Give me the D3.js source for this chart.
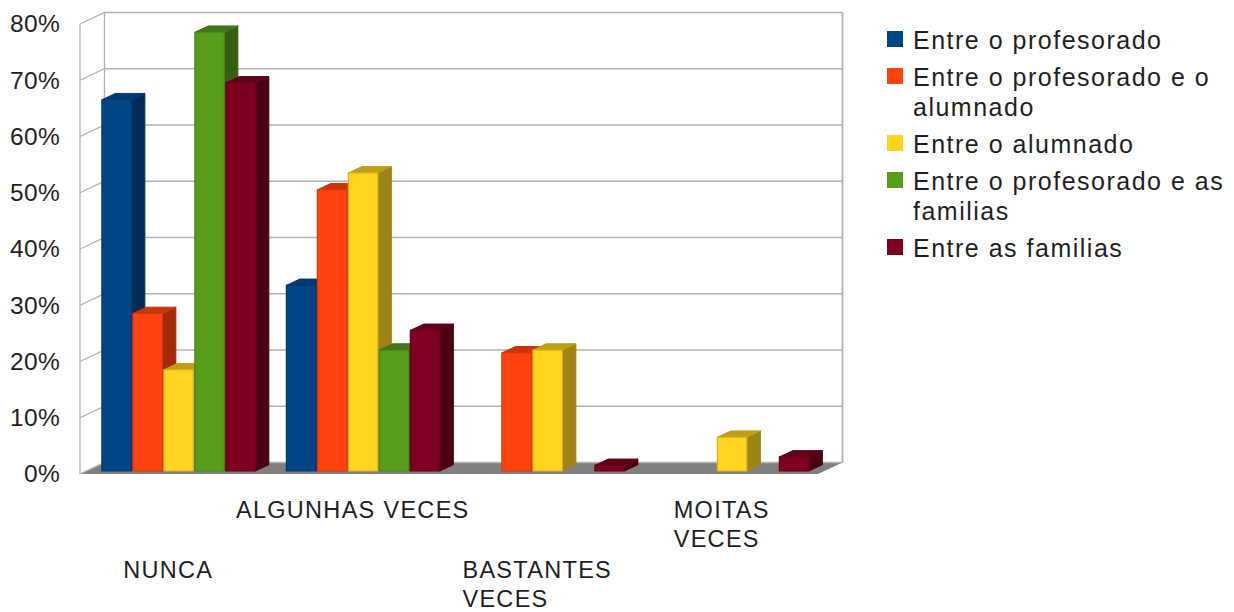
<!DOCTYPE html>
<html>
<head>
<meta charset="utf-8">
<script src="https://cdn.jsdelivr.net/npm/d3@7/dist/d3.min.js"></script>
<style>
  body { margin: 0; background: #fff; }
  text { font-family: "Liberation Sans", Arial, sans-serif; fill: #1f1f1f; }
</style>
</head>
<body>
<script>
// categories and series
const categories = ["NUNCA", "ALGUNHAS VECES", "BASTANTES VECES", "MOITAS VECES"];
const categoryLines = [["NUNCA"], ["ALGUNHAS VECES"], ["BASTANTES", "VECES"], ["MOITAS", "VECES"]];
const series = ["Entre o profesorado", "Entre o profesorado e o alumnado", "Entre o alumnado",
    "Entre o profesorado e as familias", "Entre as familias"];

// values in percent, one per category
const profesorado = [66, 33, 0, 0];
const profesoradoAlumnado = [28, 50, 21, 0];
const alumnado = [18, 53, 21.5, 6];
const profesoradoFamilias = [78, 21.5, 0, 0];
const familias = [69, 25, 1, 2.5];
const yTicks = [0, 10, 20, 30, 40, 50, 60, 70, 80];

const allValues = [profesorado, profesoradoAlumnado, alumnado, profesoradoFamilias, familias];

const frontColors = ["#004586", "#ff420e", "#ffd320", "#579d1c", "#7e0021"];
const sideColors = ["#002c57", "#a52a08", "#9e8416", "#355f12", "#4c0014"];
const topColors = ["#003a72", "#c7350a", "#bd9f19", "#427616", "#600019"];
const edgeColors = ["#00386e", "#d8370b", "#d9b31b", "#4a8517", "#6a001b"];

// layout
const width = 1234, height = 612;
const front = {left: 80, right: 818, bottom: 474};
const depth = {dx: 24.5, dy: -11.5};
const t0 = 0.26, t1 = 0.81; // bar depth range

const svg = d3.select("body").append("svg")
    .attr("width", width)
    .attr("height", height);

const x = d3.scaleBand().domain(categories).range([front.left, front.right]);
const xs = d3.scaleBand().domain(series).range([0, x.bandwidth()])
    .paddingInner(0.048).paddingOuter(0.5);
const y = d3.scaleLinear().domain([0, 80]).range([front.bottom, 24]);

// point in the box at front x, value v and depth t
const pt = (px, v, t) => [px + t * depth.dx, y(v) + t * depth.dy];
const poly = pts => "M" + pts.map(p => p.join(",")).join("L") + "Z";

// floor
svg.append("path")
    .attr("d", poly([pt(front.left, 0, 0), pt(front.right, 0, 0), pt(front.right, 0, 1), pt(front.left, 0, 1)]))
    .attr("fill", "#808080");

// walls and grid
const grid = svg.append("g").attr("stroke", "#b3b3b3").attr("stroke-width", 1.3).attr("fill", "none");
yTicks.forEach(v => {
    grid.append("path").attr("d", "M" + pt(front.left, v, 0) + "L" + pt(front.left, v, 1) + "L" + pt(front.right, v, 1));
});
grid.append("path").attr("d", "M" + pt(front.left, 0, 0) + "L" + pt(front.left, 80, 0));
grid.append("path").attr("d", "M" + pt(front.left, 0, 1) + "L" + pt(front.left, 80, 1));
grid.append("path").attr("d", "M" + pt(front.right, 0, 1) + "L" + pt(front.right, 80, 1)).attr("stroke-width", 1.8);

// y axis labels
svg.append("g")
    .attr("transform", "translate(" + front.left + ",0)")
    .call(d3.axisLeft(y).tickValues(yTicks).tickSize(0).tickPadding(20).tickFormat(d => d + "%"))
    .call(g => g.select(".domain").remove())
    .selectAll("text")
    .attr("font-size", 24.5)
    .attr("letter-spacing", 0.3)
    .attr("font-family", "Liberation Sans, Arial, sans-serif")
    .attr("fill", "#1f1f1f");

// bars
const bars = svg.append("g");
categories.forEach((c, ci) => {
    series.forEach((s, si) => {
        const v = allValues[si][ci];
        if (!v) return;
        const x0 = x(c) + xs(s), x1 = x0 + xs.bandwidth();
        const g = bars.append("g").attr("stroke-linejoin", "round");
        g.append("path")
            .attr("d", poly([pt(x1, 0, t0), pt(x1, v, t0), pt(x1, v, t1), pt(x1, 0, t1)]))
            .attr("fill", sideColors[si]).attr("stroke", sideColors[si]).attr("stroke-width", 1);
        g.append("path")
            .attr("d", poly([pt(x0, v, t0), pt(x1, v, t0), pt(x1, v, t1), pt(x0, v, t1)]))
            .attr("fill", topColors[si]).attr("stroke", topColors[si]).attr("stroke-width", 1);
        g.append("path")
            .attr("d", poly([pt(x0, 0, t0), pt(x1, 0, t0), pt(x1, v, t0), pt(x0, v, t0)]))
            .attr("fill", frontColors[si]).attr("stroke", edgeColors[si]).attr("stroke-width", 1.2);
    });
});

// category labels, staggered on two rows
const rowBaseline = [578, 518];
const catLabels = svg.append("g")
    .attr("font-size", 23.5)
    .attr("letter-spacing", 1.3);
categories.forEach((c, ci) => {
    const t = catLabels.append("text")
        .attr("y", rowBaseline[ci % 2]);
    categoryLines[ci].forEach((line, li) => {
        t.append("tspan").attr("x", 0).attr("dy", li ? 29 : 0).text(line);
    });
    // centre the block, lines left aligned
    const cx = x(c) + x.bandwidth() / 2;
    const w = t.node().getBBox().width;
    t.selectAll("tspan").attr("x", cx - w / 2 - 4);
});

// legend
const legend = svg.append("g").attr("transform", "translate(887,0)");
const legendMax = 315;
let ly = 48.5;
series.forEach((s, si) => {
    legend.append("rect")
        .attr("x", 0).attr("y", ly - 17.5)
        .attr("width", 16).attr("height", 16)
        .attr("fill", frontColors[si]);
    const t = legend.append("text")
        .attr("x", 26).attr("y", ly)
        .attr("font-size", 25)
        .attr("letter-spacing", 1.5);
    // word wrap
    const words = s.split(" ");
    let line = [];
    let tspan = t.append("tspan").attr("x", 26).attr("dy", 0);
    let lines = 1;
    words.forEach(wd => {
        line.push(wd);
        tspan.text(line.join(" "));
        if (tspan.node().getComputedTextLength() > legendMax && line.length > 1) {
            line.pop();
            tspan.text(line.join(" "));
            line = [wd];
            tspan = t.append("tspan").attr("x", 26).attr("dy", 30).text(wd);
            lines++;
        }
    });
    ly += (lines - 1) * 30 + 37;
});
</script>
</body>
</html>
